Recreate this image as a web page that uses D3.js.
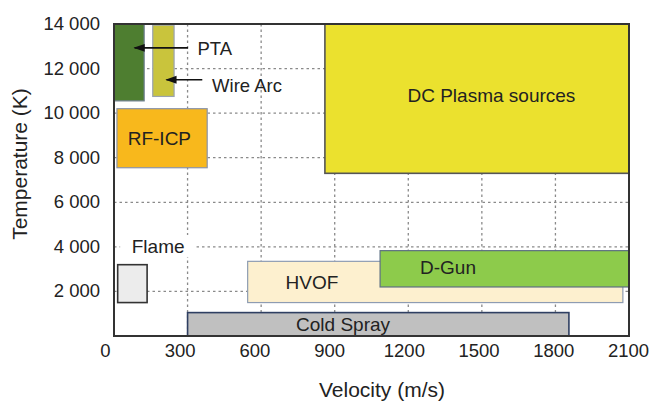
<!DOCTYPE html>
<html>
<head>
<meta charset="utf-8">
<script src="https://cdn.jsdelivr.net/npm/d3@7/dist/d3.min.js"></script>
<style>
  html, body { margin: 0; padding: 0; background: #fff; }
  svg { display: block; font-family: "Liberation Sans", Arial, sans-serif; }
</style>
</head>
<body>
<svg id="chart" width="651" height="402"></svg>
<script>
// Thermal spray processes: velocity range (m/s) vs. temperature range (K)
const processes = ["PTA", "Wire Arc", "RF-ICP", "DC Plasma sources", "Flame", "HVOF", "D-Gun", "Cold Spray"];
const velMin  = [0,     158,   12,    860,   15,   545,  1085, 300];
const velMax  = [123,   245,   380,   2100,  135,  2075, 2100, 1855];
const tempMin = [10550, 10750, 7550,  7300,  1500, 1500, 2200, 0];
const tempMax = [14000, 13950, 10200, 14000, 3200, 3350, 3830, 1050];

const fills   = ["#4e7e30", "#c9c43c", "#f8b81c", "#ebe12e", "#ececec", "#fdf0cf", "#8dcb4b", "#c0c0c0"];
const strokes = ["#6f7f8f", "#9aa3b0", "#8a93a8", "#555555", "#333333", "#8e9cb2", "#5d6f82", "#2f3f62"];

const xTicks = [0, 300, 600, 900, 1200, 1500, 1800, 2100];
const yTicks = [2000, 4000, 6000, 8000, 10000, 12000, 14000];
const gridX  = [300, 600, 900, 1200, 1500, 1800];
const gridY  = [2000, 4000, 6000, 8000, 10000, 12000];

const svg = d3.select("#chart");
const plotL = 114, plotR = 629, plotT = 24, plotB = 336;

const x = d3.scaleLinear().domain([0, 2100]).range([plotL, plotR]);
const y = d3.scaleLinear().domain([0, 14000]).range([plotB, plotT]);
// tick labels sit on a slightly shifted baseline scale
const xLab = d3.scaleLinear().domain([0, 2100]).range([105, 628]);

const ink = "#222";
const fmtY = d => d3.format(",")(d).replace(",", " ");
const fmtX = d3.format("d");

// dashed grid
const grid = svg.append("g").attr("stroke", "#8a8a8a").attr("stroke-width", 1.3)
  .attr("stroke-dasharray", "2.5,3");
grid.selectAll("line.v").data(gridX).join("line").attr("class", "v")
  .attr("x1", d => x(d)).attr("x2", d => x(d)).attr("y1", plotT).attr("y2", plotB);
grid.selectAll("line.h").data(gridY).join("line").attr("class", "h")
  .attr("x1", plotL).attr("x2", plotR).attr("y1", d => y(d)).attr("y2", d => y(d));

// process boxes
const idx = d3.range(processes.length);
svg.append("g").selectAll("rect").data(idx).join("rect")
  .attr("x", i => x(velMin[i]))
  .attr("y", i => y(tempMax[i]))
  .attr("width", i => x(velMax[i]) - x(velMin[i]))
  .attr("height", i => y(tempMin[i]) - y(tempMax[i]))
  .attr("fill", i => fills[i])
  .attr("stroke", i => strokes[i])
  .attr("stroke-width", i => (i === 3 || i === 4 || i === 7) ? 1.6 : 1.2);

// plot frame
svg.append("rect").attr("x", plotL).attr("y", plotT)
  .attr("width", plotR - plotL).attr("height", plotB - plotT)
  .attr("fill", "none").attr("stroke", "#333").attr("stroke-width", 2);

// axes
const xAxis = svg.append("g").attr("transform", `translate(0,${plotB + 8})`)
  .call(d3.axisBottom(xLab).tickValues(xTicks).tickFormat(fmtX).tickSize(0).tickPadding(0));
xAxis.select(".domain").remove();
xAxis.selectAll("text").attr("font-size", 18.5).attr("fill", ink).attr("font-family", "Liberation Sans, Arial, sans-serif");

const yAxis = svg.append("g").attr("transform", `translate(${plotL - 14},0)`)
  .call(d3.axisLeft(y).tickValues(yTicks).tickFormat(fmtY).tickSize(0).tickPadding(0));
yAxis.select(".domain").remove();
yAxis.selectAll("text").attr("font-size", 18.5).attr("fill", ink).attr("font-family", "Liberation Sans, Arial, sans-serif")
  .attr("dy", "0.3em");

// axis titles
svg.append("text").attr("x", 382).attr("y", 397).attr("text-anchor", "middle")
  .attr("font-size", 21).attr("fill", ink).text("Velocity (m/s)");
svg.append("text").attr("transform", "translate(27,164) rotate(-90)").attr("text-anchor", "middle")
  .attr("font-size", 21).attr("fill", ink).text("Temperature (K)");

// box labels (velocity, temperature anchors)
const labelText = ["RF-ICP", "DC Plasma sources", "HVOF", "D-Gun", "Cold Spray"];
const labelVel  = [185, 1539, 807, 1362, 934];
const labelTemp = [8880, 10780, 2400, 3060, 520];
svg.append("g").selectAll("text").data(labelText).join("text")
  .attr("x", (d, i) => x(labelVel[i])).attr("y", (d, i) => y(labelTemp[i]))
  .attr("dy", "0.35em").attr("text-anchor", "middle")
  .attr("font-size", 19).attr("fill", ink).text(d => d);

// Flame label on a white patch over the grid
const flame = svg.append("g").attr("transform", `translate(${x(180)},${y(4040)})`);
flame.append("rect").attr("x", -38).attr("y", -11).attr("width", 76).attr("height", 22).attr("fill", "#fff");
flame.append("text").attr("text-anchor", "middle").attr("dy", "0.35em")
  .attr("font-size", 19).attr("fill", ink).text("Flame");

// arrow callouts
svg.append("defs").append("marker").attr("id", "head")
  .attr("viewBox", "0 0 10 10").attr("refX", 9).attr("refY", 5)
  .attr("markerWidth", 7).attr("markerHeight", 7).attr("orient", "auto")
  .append("path").attr("d", "M0,1.5 L10,5 L0,8.5 Z").attr("fill", "#111");

const calloutText = ["PTA", "Wire Arc"];
const tailVel = [302, 360], tipVel = [84, 214];
const arrowTemp = [12930, 11500];
const textVel = [340, 400], textTemp = [12900, 11250];
const call = svg.append("g");
call.selectAll("line").data(calloutText).join("line")
  .attr("x1", (d, i) => x(tailVel[i])).attr("x2", (d, i) => x(tipVel[i]))
  .attr("y1", (d, i) => y(arrowTemp[i])).attr("y2", (d, i) => y(arrowTemp[i]))
  .attr("stroke", "#111").attr("stroke-width", 1.6).attr("marker-end", "url(#head)");
call.selectAll("text").data(calloutText).join("text")
  .attr("x", (d, i) => x(textVel[i])).attr("y", (d, i) => y(textTemp[i]))
  .attr("dy", "0.35em").attr("font-size", 18.5).attr("fill", ink).text(d => d);
</script>
</body>
</html>
